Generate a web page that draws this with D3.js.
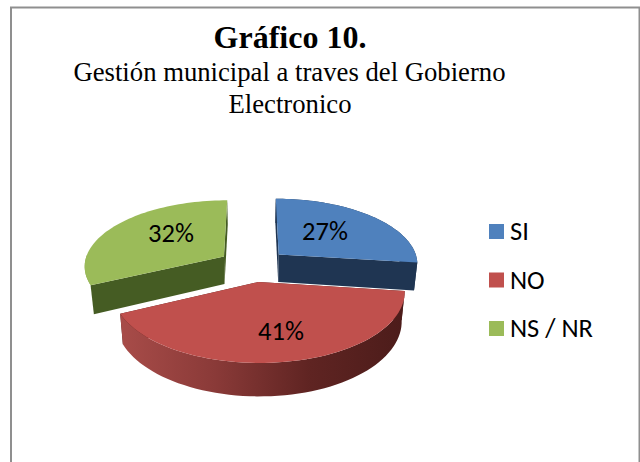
<!DOCTYPE html>
<html><head><meta charset="utf-8">
<script src="https://cdnjs.cloudflare.com/ajax/libs/d3/7.8.5/d3.min.js"></script>
<style>html,body{margin:0;padding:0;background:#fff}svg{display:block}</style>
</head><body><svg id="c" width="640" height="462"></svg>
<script>
const categories = ["SI", "NO", "NS / NR"];
const values = [27, 41, 32];
const labels = ["27%", "41%", "32%"];
const topColors = ["#4f81bd", "#c0504d", "#9bbb59"];
const faceColors = ["#1f3552", "#4f1d1b", "#455c23"];
const wallStops = [
  ["#1f3552", "#1f3552"],
  ["#a84c49", "#8a3a38", "#5f2422", "#4c1c1a"],
  ["#8aa64f", "#7a9544"]
];

const svg = d3.select("#c");
const defs = svg.append("defs");
const W = 640, H = 462;

// frame
svg.append("path").attr("d", `M11,${H}V7.5H639.5V${H}`).attr("fill", "none").attr("stroke", "#8f8f8f").attr("stroke-width", 2);

// title
const serif = "'Liberation Serif','Times New Roman',serif";
svg.append("text").attr("x", 290).attr("y", 48).attr("text-anchor", "middle")
  .attr("font-family", serif).attr("font-weight", "bold").attr("font-size", 32).attr("fill", "#000").text("Gráfico 10.");
svg.append("text").attr("x", 289.5).attr("y", 81).attr("text-anchor", "middle")
  .attr("font-family", serif).attr("font-size", 26.7).attr("fill", "#000").text("Gestión municipal a traves del Gobierno");
svg.append("text").attr("x", 290).attr("y", 113).attr("text-anchor", "middle")
  .attr("font-family", serif).attr("font-size", 26.7).attr("fill", "#000").text("Electronico");

// perspective projection of the 3D pie
const cx = 253, cy = 265.2, f = 140, g = 65.7, p = 0.13, explode = 0.25, depth = 28, shrink = 0.98;
const pie = d3.pie().sort(null).startAngle(0).endAngle(2 * Math.PI);
const arcs = pie(values);

function world(a, r, mid) {
  return [r * Math.sin(a) + explode * Math.sin(mid), -r * Math.cos(a) - explode * Math.cos(mid)];
}
function proj(a, r, mid, bottom) {
  const [X, Y] = world(a, r, mid);
  const d = 1 - p * Y;
  const s = bottom ? shrink : 1;
  return [cx + s * f * X / d, cy + g * Y / d + (bottom ? depth / d : 0)];
}
const line = d3.line();
const angleSteps = (a0, a1) => d3.range(0, 61).map(i => a0 + (a1 - a0) * i / 60);

function drawSlice(i) {
  const d = arcs[i];
  const mid = (d.startAngle + d.endAngle) / 2;
  const as = angleSteps(d.startAngle, d.endAngle);
  const g0 = svg.append("g");
  // radial faces
  [d.startAngle, d.endAngle].forEach(a => {
    g0.append("path").attr("fill", faceColors[i]).attr("d", line([
      proj(a, 0, mid, false), proj(a, 1, mid, false), proj(a, 1, mid, true), proj(a, 0, mid, true)
    ]) + "Z");
  });
  // outer wall: the rear slice only shows a thin straight rim down to its corner
  const topPts = as.map(a => proj(a, 1, mid, false));
  const botPts = as.map(a => proj(a, 1, mid, true));
  const xs = topPts.map(q => q[0]);
  const id = "wall" + i;
  const lg = defs.append("linearGradient").attr("id", id).attr("gradientUnits", "userSpaceOnUse")
    .attr("x1", d3.min(xs)).attr("x2", d3.max(xs)).attr("y1", 0).attr("y2", 0);
  wallStops[i].forEach((c, k, arr) => lg.append("stop").attr("offset", k / (arr.length - 1)).attr("stop-color", c));
  const wallPts = i === 2
    ? topPts.slice(0, 15).concat([botPts[0]])
    : topPts.concat(botPts.slice().reverse());
  g0.append("path").attr("fill", `url(#${id})`).attr("d", line(wallPts) + "Z");
  // top
  g0.append("path").attr("fill", topColors[i]).attr("d", line([proj(0, 0, mid, false)].concat(topPts)) + "Z");
}
// back slices first, the front slice last
[2, 0, 1].forEach(drawSlice);

// data labels
const labelPos = [[325, 240], [281, 340], [171, 242]];
const sans = "Carlito,Calibri,Lato,sans-serif";
labels.forEach((t, i) => {
  svg.append("text").attr("x", labelPos[i][0]).attr("y", labelPos[i][1]).attr("text-anchor", "middle")
    .attr("font-family", sans).attr("font-size", 26.5).attr("fill", "#000").text(t);
});

// legend
const legendY = d3.scalePoint().domain(categories).range([224, 321]);
categories.forEach((c, i) => {
  const y = legendY(c);
  svg.append("rect").attr("x", 489).attr("y", y).attr("width", 15).attr("height", 15).attr("fill", topColors[i]);
  svg.append("text").attr("x", 510).attr("y", y + 16).attr("font-family", sans).attr("font-size", 26.5).attr("fill", "#000").text(c);
});
</script></body></html>
